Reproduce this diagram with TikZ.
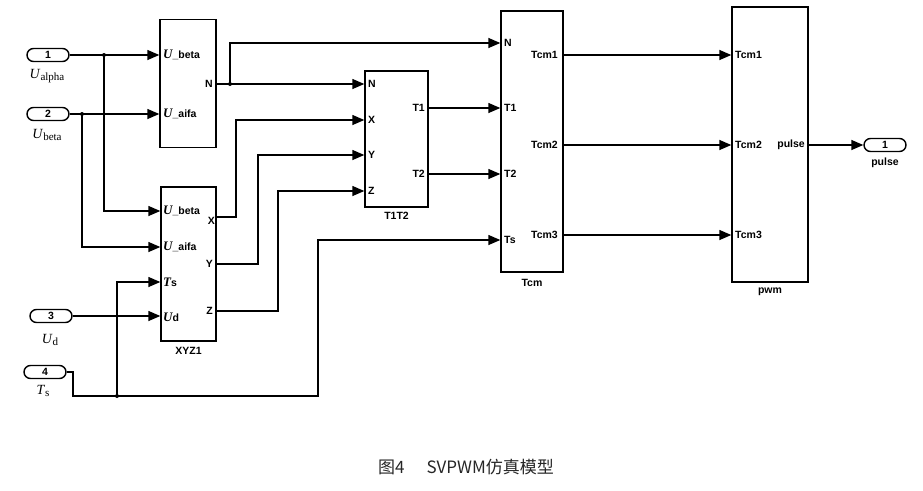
\documentclass[tikz,border=0pt]{standalone}
\usepackage{fontspec}
\setmainfont{Liberation Serif}
\setsansfont{Liberation Sans}
\newfontfamily\cjk{Noto Sans CJK SC}
\usetikzlibrary{arrows.meta}
\newcommand{\bigit}[1]{{\rmfamily\itshape\fontsize{13}{13}\selectfont #1}}
\begin{document}
\begin{tikzpicture}[x=1pt,y=-1pt,
  wire/.style={line width=1.4pt},
  sig/.style={wire,-{Triangle[length=12pt,width=10pt]}},
  blockbox/.style={draw,line width=1.4pt,inner sep=0pt},
  portlbl/.style={font=\sffamily\bfseries\fontsize{10.5}{10.5}\selectfont,inner sep=1pt},
  namelbl/.style={font=\sffamily\bfseries\fontsize{10.5}{10.5}\selectfont,inner sep=0pt},
  ioport/.style={draw,line width=1.4pt,rounded corners=6.5pt,minimum width=42pt,minimum height=13pt,inner sep=0pt,font=\sffamily\bfseries\fontsize{10.5}{10.5}\selectfont},
  iolbl/.style={font=\fontsize{14}{14}\selectfont,inner sep=0pt},
  jdot/.style={circle,fill,inner sep=0pt,minimum size=4pt}
]
\useasboundingbox (0,0) rectangle (923,490);

% blocks
\node[blockbox,minimum width=56pt,minimum height=128pt] (b1) at (188,83.5) {};
\node[blockbox,minimum width=55pt,minimum height=154pt] (xyz) at (188.5,264) {};
\node[blockbox,minimum width=63pt,minimum height=136pt] (tt) at (396.5,139) {};
\node[blockbox,minimum width=62pt,minimum height=261pt] (tcm) at (532,141.5) {};
\node[blockbox,minimum width=76pt,minimum height=275pt] (pwm) at (770,144.5) {};

\node[namelbl] (ntt) at (396.5,216) {T1T2};
\node[namelbl] (nxyz) at (188.5,351) {XYZ1};
\node[namelbl] (ntcm) at (532,283) {Tcm};
\node[namelbl] (npwm) at (770,292) {pwm};

% port labels block 1
\node[portlbl,anchor=west] (l1a) at (162,55) {\bigit{U}\_beta};
\node[portlbl,anchor=west] (l1b) at (162,114) {\bigit{U}\_aifa};
\node[portlbl,anchor=east] (l1n) at (214,84) {N};
% XYZ1
\node[portlbl,anchor=west] (lxa) at (162,211) {\bigit{U}\_beta};
\node[portlbl,anchor=west] (lxb) at (162,247) {\bigit{U}\_aifa};
\node[portlbl,anchor=west] (lxc) at (162,282) {\bigit{T}s};
\node[portlbl,anchor=west] (lxd) at (162,317) {\bigit{U}d};
\node[portlbl,anchor=east] (lxx) at (216,221) {X};
\node[portlbl,anchor=east] (lxy) at (214,264) {Y};
\node[portlbl,anchor=east] (lxz) at (214,311) {Z};
% T1T2
\node[portlbl,anchor=west] (ltn) at (367,84) {N};
\node[portlbl,anchor=west] (ltx) at (367,120) {X};
\node[portlbl,anchor=west] (lty) at (367,155) {Y};
\node[portlbl,anchor=west] (ltz) at (367,191) {Z};
\node[portlbl,anchor=east] (lt1) at (426,108) {T1};
\node[portlbl,anchor=east] (lt2) at (426,174) {T2};
% Tcm
\node[portlbl,anchor=west] (lcn) at (503,43) {N};
\node[portlbl,anchor=west] (lc1) at (503,108) {T1};
\node[portlbl,anchor=west] (lc2) at (503,174) {T2};
\node[portlbl,anchor=west] (lcs) at (503,240) {Ts};
\node[portlbl,anchor=east] (lco1) at (559,55) {Tcm1};
\node[portlbl,anchor=east] (lco2) at (559,145) {Tcm2};
\node[portlbl,anchor=east] (lco3) at (559,235) {Tcm3};
% pwm
\node[portlbl,anchor=west] (lp1) at (734,55) {Tcm1};
\node[portlbl,anchor=west] (lp2) at (734,145) {Tcm2};
\node[portlbl,anchor=west] (lp3) at (734,235) {Tcm3};
\node[portlbl,anchor=east] (lpo) at (806,145) {pulse};

% io ports
\node[ioport] (in1) at (48,55) {1};
\node[ioport] (in2) at (48,114) {2};
\node[ioport] (in3) at (51,316) {3};
\node[ioport] (in4) at (45,372) {4};
\node[ioport] (out1) at (885,145) {1};
\node[iolbl] (tin1) at (47,76) {\textit{U}\raisebox{-2pt}{\fontsize{11}{11}\selectfont alpha}};
\node[iolbl] (tin2) at (47,135) {\textit{U}\raisebox{-2pt}{\fontsize{11}{11}\selectfont beta}};
\node[iolbl] (tin3) at (50,340) {\textit{U}\raisebox{-2pt}{\fontsize{11}{11}\selectfont d}};
\node[iolbl] (tin4) at (43,391) {\textit{T}\raisebox{-2pt}{\fontsize{11}{11}\selectfont s}};
\node[namelbl] (tout) at (885,163) {pulse};

% junction coordinates
\coordinate (j1) at (104,55);
\coordinate (j2) at (82,114);
\coordinate (jn) at (230,84);
\coordinate (j4) at (117,396);
\node[jdot] (d1) at (j1) {};
\node[jdot] (d2) at (j2) {};
\node[jdot] (dn) at (jn) {};
\node[jdot] (d4) at (j4) {};

% wires
\draw[sig] (in1.east) -- (b1.west |- in1);
\draw[sig] (j1) |- (xyz.west |- lxa);
\draw[sig] (in2.east) -- (b1.west |- in2);
\draw[sig] (j2) |- (xyz.west |- lxb);
\draw[sig] (b1.east |- jn) -- (tt.west |- jn);
\draw[sig] (jn) |- (tcm.west |- lcn);
\draw[sig] (xyz.east |- 0,217) -| (236,120) -- (tt.west |- ltx);
\draw[sig] (xyz.east |- lxy) -| (258,155) -- (tt.west |- lty);
\draw[sig] (xyz.east |- lxz) -| (278,191) -- (tt.west |- ltz);
\draw[sig] (in3.east) -- (xyz.west |- in3);
\draw[sig] (in4.east) -| (73,396) -| (318,240) -- (tcm.west |- lcs);
\draw[sig] (j4) |- (xyz.west |- lxc);
\draw[sig] (tt.east |- lt1) -- (tcm.west |- lc1);
\draw[sig] (tt.east |- lt2) -- (tcm.west |- lc2);
\draw[sig] (tcm.east |- lco1) -- (pwm.west |- lp1);
\draw[sig] (tcm.east |- lco2) -- (pwm.west |- lp2);
\draw[sig] (tcm.east |- lco3) -- (pwm.west |- lp3);
\draw[sig] (pwm.east |- lpo) -- (out1.west |- lpo);

% caption
\node[inner sep=0pt,text=black!85,font=\cjk\fontsize{17}{17}\selectfont] (cap) at (466,467) {图4\hspace{22pt}SVPWM仿真模型};
\end{tikzpicture}
\end{document}
